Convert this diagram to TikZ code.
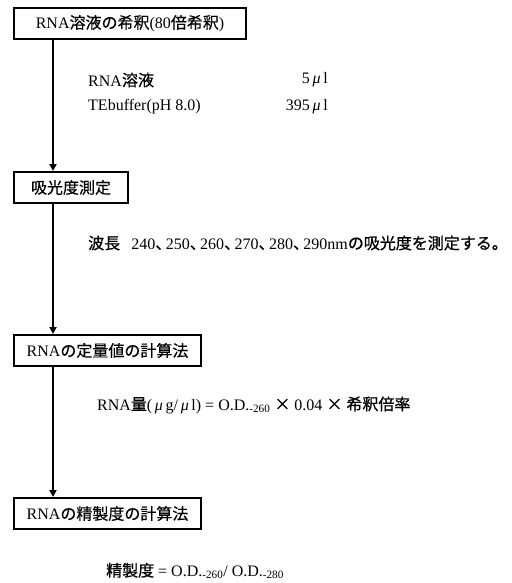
\documentclass[tikz,border=0pt]{standalone}
\usepackage{fontspec}
\setmainfont{Liberation Serif}
\newfontfamily\jp{Noto Sans CJK JP}[FakeBold=0.3]
\newfontfamily\jpb{Noto Sans CJK JP}[FakeBold=0.8]
\newcommand{\tou}{\makebox[0.65em][l]{\jp 、}}
\newcommand{\myu}{\textit{μ}}
\usetikzlibrary{arrows.meta}
\begin{document}
\begin{tikzpicture}[x=1pt,y=1pt,
  box/.style={draw,line width=2pt,minimum height=31pt,inner sep=0pt,anchor=north west,font=\fontsize{16}{19}\selectfont},
  txt/.style={anchor=west,inner sep=0pt,font=\fontsize{16}{19}\selectfont},
  val/.style={txt,anchor=east},
  arr/.style={line width=2.5pt,-{Triangle[length=7pt,width=7pt]}}]
\useasboundingbox (0,0) rectangle (511,-583);
\node[box,minimum width=232pt] (b1) at (13,-7) {RNA{\jp 溶液の希釈}(80{\jp 倍希釈})};
\node[box,minimum width=114pt] (b2) at (13,-171) {{\jp 吸光度測定}};
\node[box,minimum width=187pt] (b3) at (13,-334) {RNA{\jp の定量値の計算法}};
\node[box,minimum width=187pt] (b4) at (13,-497) {RNA{\jp の精製度の計算法}};

\node[txt] (t1) at (88,-80) {RNA{\jp 溶液}};
\node[val] (v1) at (328,-80) {5\,\myu\,l};
\node[txt] (t2) at (88,-107) {TEbuffer(pH 8.0)};
\node[val] (v2) at (328,-107) {395\,\myu\,l};
\node[txt] (t3) at (88,-243) {{\jpb 波長}\hspace{0.7em}240\tou 250\tou 260\tou 270\tou 280\tou 290nm{\jpb の吸光度を測定する。}};
\node[txt] (t4) at (97,-405) {RNA{\jpb 量}(\,\myu\,g/\,\myu\,l) = O.D.\textsubscript{-260}\ {\jpb ×}\ 0.04\ {\jpb ×}\ {\jpb 希釈倍率}};
\node[txt] (t5) at (106,-571) {{\jpb 精製度} = O.D.\textsubscript{-260}/ O.D.\textsubscript{-280}};

\draw[arr] ([xshift=40pt]b1.south west) -- ([xshift=40pt]b2.north west);
\draw[arr] ([xshift=40pt]b2.south west) -- ([xshift=40pt]b3.north west);
\draw[arr] ([xshift=40pt]b3.south west) -- ([xshift=40pt]b4.north west);
\end{tikzpicture}
\end{document}
